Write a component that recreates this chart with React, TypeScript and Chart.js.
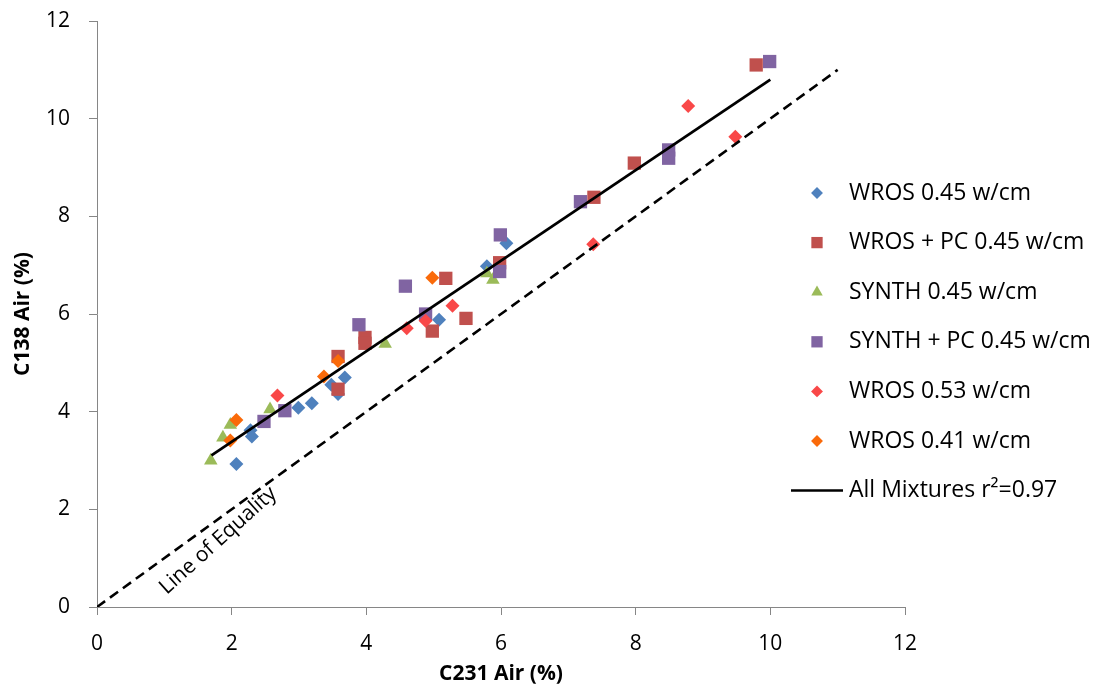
import { useEffect, useRef } from 'react';
import { Chart, registerables } from 'chart.js';

Chart.register(...registerables);

// ---- data ----
const SERIES_LABELS = [
  'WROS 0.45 w/cm',
  'WROS + PC 0.45 w/cm',
  'SYNTH 0.45 w/cm',
  'SYNTH + PC 0.45 w/cm',
  'WROS 0.53 w/cm',
  'WROS 0.41 w/cm',
];

const WROS_045_X = [2.07, 2.28, 2.3, 2.99, 3.19, 3.48, 3.58, 3.68, 5.08, 5.79, 6.08];
const WROS_045_Y = [2.93, 3.62, 3.49, 4.08, 4.17, 4.55, 4.36, 4.7, 5.88, 6.98, 7.45];

const WROS_PC_045_X = [3.58, 3.58, 3.98, 3.98, 4.98, 5.18, 5.48, 5.98, 7.38, 7.98, 9.79];
const WROS_PC_045_Y = [4.46, 5.13, 5.52, 5.4, 5.65, 6.73, 5.91, 7.05, 8.39, 9.09, 11.1];

const SYNTH_045_X = [1.69, 1.87, 1.98, 2.57, 4.28, 5.79, 5.88];
const SYNTH_045_Y = [3.0, 3.47, 3.73, 4.05, 5.39, 6.83, 6.7];

const SYNTH_PC_045_X = [2.48, 2.79, 3.89, 4.58, 4.88, 5.98, 5.99, 7.18, 8.49, 8.49, 9.99];
const SYNTH_PC_045_Y = [3.8, 4.02, 5.78, 6.57, 6.0, 6.87, 7.62, 8.3, 9.36, 9.19, 11.17];

const WROS_053_X = [2.68, 4.6, 4.88, 5.28, 7.37, 8.78, 9.48];
const WROS_053_Y = [4.33, 5.71, 5.86, 6.17, 7.43, 10.26, 9.63];

const WROS_041_X = [1.98, 2.07, 3.37, 3.58, 4.98];
const WROS_041_Y = [3.41, 3.83, 4.72, 5.04, 6.74];

const REG_LABEL = 'All Mixtures r\u00B2=0.97';
const REG_SLOPE = 0.927;
const REG_INTERCEPT = 1.53;
const REG_X = [1.7, 10.0];

const EQ_LABEL = 'Line of Equality';
const EQ_X = [0, 11];

const AXIS_TICKS = [0, 2, 4, 6, 8, 10, 12];
const X_TITLE = 'C231 Air (%)';
const Y_TITLE = 'C138 Air (%)';

// ---- styles ----
const COLORS = ['#4F81BD', '#C0504D', '#9BBB59', '#8064A2', '#F94848', '#FA6A0A'];
const STYLES = ['rectRot', 'rect', 'triangle', 'rect', 'rectRot', 'rectRot'];
const RADII = [7, 9.4, 7.8, 9.4, 7, 7];
const FONT = "'Open Sans', sans-serif";
const AXIS_COLOR = '#868686';

const zip = (xs: number[], ys: number[]) => xs.map((x, i) => ({ x, y: ys[i] }));

function drawMarker(ctx: CanvasRenderingContext2D, style: string, x: number, y: number, r: number) {
  ctx.beginPath();
  if (style === 'rectRot') {
    ctx.moveTo(x, y - r);
    ctx.lineTo(x + r, y);
    ctx.lineTo(x, y + r);
    ctx.lineTo(x - r, y);
  } else if (style === 'rect') {
    const s = r * Math.SQRT1_2;
    ctx.rect(x - s, y - s, 2 * s, 2 * s);
  } else {
    ctx.moveTo(x, y - r);
    ctx.lineTo(x + r * 0.866, y + r * 0.5);
    ctx.lineTo(x - r * 0.866, y + r * 0.5);
  }
  ctx.closePath();
  ctx.fill();
}

const legendPlugin = {
  id: 'customLegend',
  afterDraw(chart: any) {
    const ctx: CanvasRenderingContext2D = chart.ctx;
    ctx.save();
    const markerX = 809;
    const textX = 841;
    const startY = 185;
    const step = 49.6;
    ctx.font = `23px ${FONT}`;
    ctx.textBaseline = 'middle';
    ctx.textAlign = 'left';
    SERIES_LABELS.forEach((label, i) => {
      const y = startY + i * step;
      ctx.fillStyle = COLORS[i];
      drawMarker(ctx, STYLES[i], markerX, y, RADII[i] * 0.85);
      ctx.fillStyle = '#000';
      ctx.fillText(label, textX, y);
    });
    const ly = startY + SERIES_LABELS.length * step;
    ctx.strokeStyle = '#000';
    ctx.lineWidth = 2.5;
    ctx.beginPath();
    ctx.moveTo(783, ly);
    ctx.lineTo(835, ly);
    ctx.stroke();
    ctx.fillStyle = '#000';
    ctx.fillText(REG_LABEL, textX, ly);
    ctx.restore();
  },
};

const eqLabelPlugin = {
  id: 'eqLabel',
  afterDatasetsDraw(chart: any) {
    const ctx: CanvasRenderingContext2D = chart.ctx;
    const xs = chart.scales.x;
    const ys = chart.scales.y;
    const px = xs.getPixelForValue(1.8);
    const py = ys.getPixelForValue(1.36);
    ctx.save();
    ctx.translate(px, py);
    ctx.rotate((-42 * Math.PI) / 180);
    ctx.font = `21px ${FONT}`;
    ctx.fillStyle = '#000';
    ctx.textAlign = 'center';
    ctx.textBaseline = 'middle';
    ctx.fillText(EQ_LABEL, 0, 0);
    ctx.restore();
  },
};

export default function App() {
  const ref = useRef<HTMLCanvasElement | null>(null);

  useEffect(() => {
    if (!ref.current) return;
    const series = [
      zip(WROS_045_X, WROS_045_Y),
      zip(WROS_PC_045_X, WROS_PC_045_Y),
      zip(SYNTH_045_X, SYNTH_045_Y),
      zip(SYNTH_PC_045_X, SYNTH_PC_045_Y),
      zip(WROS_053_X, WROS_053_Y),
      zip(WROS_041_X, WROS_041_Y),
    ];
    const scatterSets = series.map((data, i) => ({
      type: 'scatter' as const,
      label: SERIES_LABELS[i],
      data,
      pointStyle: STYLES[i],
      pointRadius: RADII[i],
      pointBackgroundColor: COLORS[i],
      pointBorderWidth: 0,
      pointBorderColor: COLORS[i],
      order: 10 - i,
    }));
    const regData = REG_X.map((x) => ({ x, y: REG_SLOPE * x + REG_INTERCEPT }));
    const eqData = EQ_X.map((x) => ({ x, y: x }));

    const chart = new Chart(ref.current, {
      type: 'scatter',
      data: {
        datasets: [
          ...scatterSets,
          {
            type: 'line' as const,
            label: EQ_LABEL,
            data: eqData,
            borderColor: '#000',
            borderWidth: 2.6,
            borderDash: [10, 6],
            pointRadius: 0,
            showLine: true,
            fill: false,
            order: 1,
          },
          {
            type: 'line' as const,
            label: REG_LABEL,
            data: regData,
            borderColor: '#000',
            borderWidth: 2.8,
            pointRadius: 0,
            showLine: true,
            fill: false,
            order: 0,
          },
        ] as any,
      },
      options: {
        animation: false,
        responsive: false,
        layout: { padding: { top: 13, right: 186, left: 0, bottom: 0 } },
        plugins: {
          legend: { display: false },
          tooltip: { enabled: false },
        },
        scales: {
          x: {
            type: 'linear',
            min: 0,
            max: 12,
            afterFit: (s: any) => {
              s.height = 78;
              s.paddingLeft = 0;
              s.paddingRight = 0;
            },
            afterBuildTicks: (s: any) => {
              s.ticks = AXIS_TICKS.map((v) => ({ value: v }));
            },
            ticks: {
              stepSize: 2,
              color: '#000',
              padding: 16,
              font: { family: FONT, size: 21 },
            },
            grid: {
              drawOnChartArea: false,
              drawTicks: true,
              tickLength: 8,
              color: AXIS_COLOR,
            },
            border: { color: AXIS_COLOR, width: 1 },
            title: {
              display: true,
              text: X_TITLE,
              color: '#000',
              font: { family: FONT, size: 21, weight: 'bold', lineHeight: 1 },
              padding: { top: 0, bottom: 0 },
            },
          },
          y: {
            type: 'linear',
            min: 0,
            max: 12,
            afterFit: (s: any) => {
              s.width = 89;
              s.paddingTop = 0;
              s.paddingBottom = 0;
            },
            afterBuildTicks: (s: any) => {
              s.ticks = AXIS_TICKS.map((v) => ({ value: v }));
            },
            ticks: {
              stepSize: 2,
              color: '#000',
              padding: 19,
              font: { family: FONT, size: 21 },
            },
            grid: {
              drawOnChartArea: false,
              drawTicks: true,
              tickLength: 8,
              color: AXIS_COLOR,
            },
            border: { color: AXIS_COLOR, width: 1 },
            title: {
              display: true,
              text: Y_TITLE,
              color: '#000',
              font: { family: FONT, size: 21, weight: 'bold', lineHeight: 1.2 },
              padding: { top: 2, bottom: 0 },
            },
          },
        },
      } as any,
      plugins: [legendPlugin, eqLabelPlugin],
    });
    return () => chart.destroy();
  }, []);

  return (
    <canvas ref={ref} width={1083} height={677} style={{ display: 'block', width: 1083, height: 677 }} />
  );
}
